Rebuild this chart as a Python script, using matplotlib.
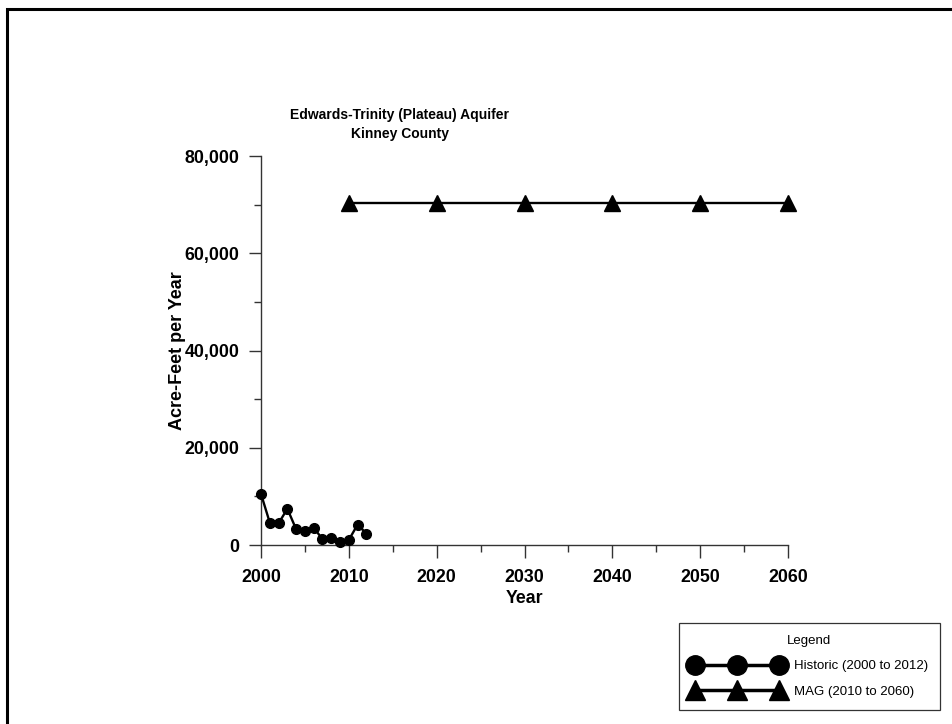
import matplotlib
matplotlib.use("Agg")
import matplotlib.pyplot as plt
from matplotlib.lines import Line2D
from matplotlib.patches import Rectangle
from matplotlib.ticker import MultipleLocator, FuncFormatter

# ---- data ----
hist_years = [2000, 2001, 2002, 2003, 2004, 2005, 2006, 2007, 2008, 2009, 2010, 2011, 2012]
hist_values = [10500, 4600, 4450, 7450, 3250, 2900, 3500, 1250, 1400, 650, 1050, 4200, 2350]
mag_years = [2010, 2020, 2030, 2040, 2050, 2060]
mag_values = [70340, 70340, 70340, 70340, 70340, 70340]
title_lines = ["Edwards-Trinity (Plateau) Aquifer", "Kinney County"]
legend_labels = ["Historic (2000 to 2012)", "MAG (2010 to 2060)"]

W, H = 953, 724
fig = plt.figure(figsize=(W / 100, H / 100), dpi=100)

base = "Liberation Sans"
plt.rcParams["font.family"] = [base, "DejaVu Sans"]

def fx(px):
    return px / W

def fy(py):
    return 1 - py / H

ax = fig.add_axes([fx(261), fy(545), fx(788) - fx(261), fy(156) - fy(545)])
ax.plot(hist_years, hist_values, color="black", lw=1.7, marker="o", ms=7, zorder=3, clip_on=False)
ax.plot(mag_years, mag_values, color="black", lw=1.7, marker="^", ms=11, zorder=3, clip_on=False)

ax.set_xlim(2000, 2060)
ax.set_ylim(0, 80000)
ax.xaxis.set_major_locator(MultipleLocator(10))
ax.xaxis.set_minor_locator(MultipleLocator(5))
ax.yaxis.set_major_locator(MultipleLocator(20000))
ax.yaxis.set_minor_locator(MultipleLocator(10000))
ax.yaxis.set_major_formatter(FuncFormatter(lambda v, p: f"{int(v):,}"))

spine_c = "#333333"
for s in ["top", "right"]:
    ax.spines[s].set_visible(False)
for s in ["left", "bottom"]:
    ax.spines[s].set_color(spine_c)
    ax.spines[s].set_linewidth(1.0)
ax.tick_params(axis="x", which="major", pad=8.5)
ax.tick_params(axis="y", which="major", pad=6.5)
ax.tick_params(which="major", direction="out", length=9, width=1.0, color=spine_c)
ax.tick_params(which="minor", direction="out", length=5, width=1.0, color=spine_c)
for lab in ax.get_xticklabels() + ax.get_yticklabels():
    lab.set_fontweight("bold")
    lab.set_fontsize(12.8)

ax.set_xlabel("Year", fontsize=12.8, fontweight="bold", labelpad=3)
ax.set_ylabel("Acre-Feet per Year", fontsize=13, fontweight="bold", labelpad=-1)

# title
fig.text(fx(400), fy(119), title_lines[0], ha="center", va="baseline",
         fontsize=10, fontweight="bold")
fig.text(fx(400), fy(138), title_lines[1], ha="center", va="baseline",
         fontsize=10, fontweight="bold")

# outer frame
fig.add_artist(Rectangle((fx(7), -0.1), 1.2, fy(8.5) + 0.1, transform=fig.transFigure,
                         fill=False, edgecolor="black", lw=2.2))

# legend
handles = [
    Line2D([], [], color="black", lw=2.5, marker="o", ms=14),
    Line2D([], [], color="black", lw=2.5, marker="^", ms=14),
]
leg = fig.legend(handles, legend_labels, loc="upper left",
                 bbox_to_anchor=(fx(679), fy(623)), bbox_transform=fig.transFigure,
                 numpoints=3, handlelength=7.0, title="Legend", fontsize=9.5,
                 title_fontsize=9.5, frameon=True, fancybox=False, edgecolor="black",
                 borderaxespad=0, borderpad=0.9, labelspacing=1.0, handletextpad=0.8)
leg.get_frame().set_linewidth(0.9)

fig.savefig("out.png", dpi=100)
